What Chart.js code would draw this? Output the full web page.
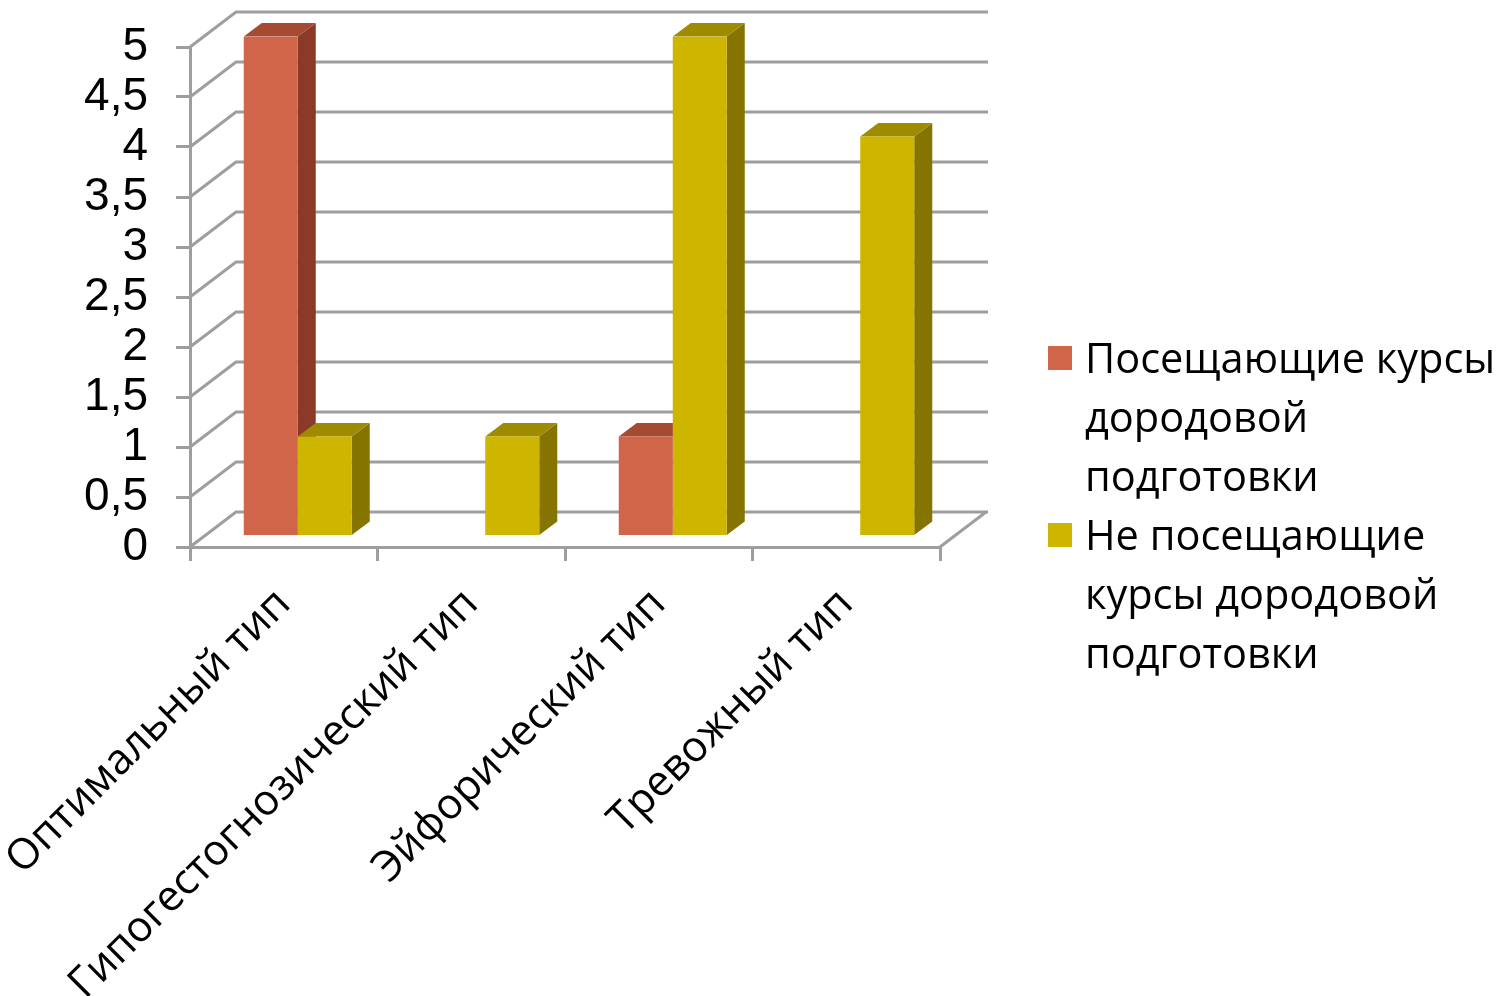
<!DOCTYPE html>
<html lang="ru">
<head>
<meta charset="utf-8">
<script src="https://cdn.jsdelivr.net/npm/chart.js@4.4.1/dist/chart.umd.min.js"></script>
<style>
    html, body { margin: 0; padding: 0; background: #fff; }
    #wrap { position: relative; width: 1506px; height: 996px; }
    #legend {
        position: absolute; left: 1048px; top: 328px;
        font-family: "Open Sans", sans-serif; font-size: 41.5px; line-height: 59px; color: #000;
    }
    #legend .item { position: relative; padding-left: 37px; white-space: pre-line; }
    #legend .box { position: absolute; left: 0; top: 18px; width: 24px; height: 24px; }
</style>
</head>
<body>
<div id="wrap">
    <canvas id="typeChart"></canvas>
    <div id="legend"></div>
</div>
<script>
const categories = ["Оптимальный тип", "Гипогестогнозический тип", "Эйфорический тип", "Тревожный тип"];
const attendingValues = [5, 0, 1, 0];
const notAttendingValues = [1, 1, 5, 4];
const seriesNames = ["Посещающие курсы\nдородовой\nподготовки", "Не посещающие\nкурсы дородовой\nподготовки"];
const yTickLabels = ["0", "0,5", "1", "1,5", "2", "2,5", "3", "3,5", "4", "4,5", "5"];

// front / side / top face colours per series
const faceColors = [
    { front: "#D0654A", side: "#8B3A28", top: "#A54B33" },
    { front: "#CEB500", side: "#857500", top: "#9E8B00" },
];
const gridColor = "#9E9E9E";
const wallDepth = { dx: 46, dy: -35 };
const barShift = { dx: 14, dy: -10.5 };
const barDepth = { dx: 18, dy: -13.5 };

const threeD = {
    id: "threeD",
    beforeDatasetsDraw(chart) {
        const { ctx, chartArea, scales } = chart;
        const yScale = scales.y;
        ctx.save();
        ctx.strokeStyle = gridColor;
        ctx.lineWidth = 3;
        yScale.ticks.forEach((t) => {
            const py = yScale.getPixelForValue(t.value);
            ctx.beginPath();
            ctx.moveTo(chartArea.left, py);
            ctx.lineTo(chartArea.left + wallDepth.dx, py + wallDepth.dy);
            ctx.lineTo(chartArea.right + wallDepth.dx + 2, py + wallDepth.dy);
            ctx.stroke();
        });
        const floorY = yScale.getPixelForValue(0);
        ctx.beginPath();
        ctx.moveTo(chartArea.right, floorY);
        ctx.lineTo(chartArea.right + wallDepth.dx, floorY + wallDepth.dy);
        ctx.stroke();

        // side and top faces of each bar
        chart.data.datasets.forEach((ds, i) => {
            const meta = chart.getDatasetMeta(i);
            const c = faceColors[i];
            meta.data.forEach((bar, j) => {
                if (!ds.data[j]) return;
                const p = bar.getProps(["x", "y", "base", "width"], true);
                const l = p.x - p.width / 2 + barShift.dx;
                const r = p.x + p.width / 2 + barShift.dx;
                const t = p.y + barShift.dy;
                const b = p.base + barShift.dy;
                ctx.fillStyle = c.side;
                ctx.beginPath();
                ctx.moveTo(r, t);
                ctx.lineTo(r + barDepth.dx, t + barDepth.dy);
                ctx.lineTo(r + barDepth.dx, b + barDepth.dy);
                ctx.lineTo(r, b);
                ctx.closePath();
                ctx.fill();
                ctx.fillStyle = c.top;
                ctx.beginPath();
                ctx.moveTo(l, t);
                ctx.lineTo(l + barDepth.dx, t + barDepth.dy);
                ctx.lineTo(r + barDepth.dx, t + barDepth.dy);
                ctx.lineTo(r, t);
                ctx.closePath();
                ctx.fill();
            });
        });
        ctx.restore();

        // front faces are drawn by Chart.js slightly back from the front plane
        ctx.save();
        ctx.translate(barShift.dx, barShift.dy);
    },
    afterDatasetsDraw(chart) {
        chart.ctx.restore();
    },
};

function noPadding(scale) {
    scale.paddingLeft = 0;
    scale.paddingRight = 0;
    scale.paddingTop = 0;
    scale.paddingBottom = 0;
}

const chart = new Chart(document.getElementById("typeChart"), {
    type: "bar",
    data: {
        labels: categories,
        datasets: [
            {
                label: seriesNames[0],
                data: attendingValues,
                backgroundColor: faceColors[0].front,
                borderWidth: 0,
            },
            {
                label: seriesNames[1],
                data: notAttendingValues,
                backgroundColor: faceColors[1].front,
                borderWidth: 0,
            },
        ],
    },
    options: {
        responsive: true,
        maintainAspectRatio: false,
        animation: false,
        events: [],
        categoryPercentage: 0.576,
        barPercentage: 1,
        layout: { padding: { top: 47, right: 566, left: 0, bottom: 0 } },
        plugins: {
            legend: { display: false },
            tooltip: { enabled: false },
        },
        scales: {
            x: {
                grid: {
                    offset: true,
                    drawOnChartArea: false,
                    tickLength: 14,
                    color: gridColor,
                    lineWidth: 3,
                },
                border: { color: gridColor, width: 3 },
                ticks: {
                    autoSkip: false,
                    maxRotation: 45,
                    minRotation: 45,
                    padding: 18,
                    color: "#000",
                    font: { family: "Open Sans", size: 42.5 },
                },
                afterFit(scale) {
                    scale.height = 996 - 547;
                    noPadding(scale);
                },
            },
            y: {
                min: 0,
                max: 5,
                grid: {
                    drawOnChartArea: false,
                    tickLength: 14,
                    color: gridColor,
                    lineWidth: 3,
                },
                border: { color: gridColor, width: 3 },
                ticks: {
                    stepSize: 0.5,
                    autoSkip: false,
                    padding: 28,
                    color: "#000",
                    font: { family: "Liberation Sans", size: 46 },
                    callback: (value, index) => yTickLabels[index],
                },
                afterFit(scale) {
                    scale.width = 190;
                    noPadding(scale);
                },
            },
        },
    },
    plugins: [threeD],
});

const legend = document.getElementById("legend");
chart.data.datasets.forEach((ds, i) => {
    const item = document.createElement("div");
    item.className = "item";
    const box = document.createElement("span");
    box.className = "box";
    box.style.background = faceColors[i].front;
    item.appendChild(box);
    item.appendChild(document.createTextNode(ds.label));
    legend.appendChild(item);
});
</script>
</body>
</html>
